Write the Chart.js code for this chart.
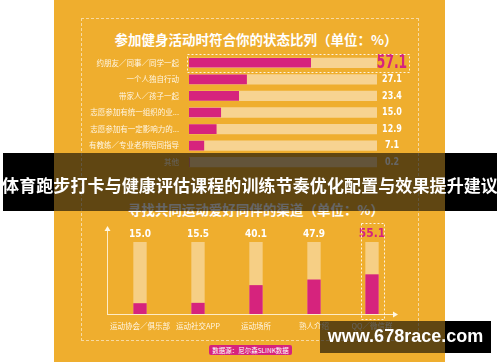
<!DOCTYPE html>
<html>
<head>
<meta charset="utf-8">
<script src="https://cdn.jsdelivr.net/npm/chart.js@4.4.0/dist/chart.umd.min.js"></script>
<style>
    body {
        margin: 0;
        width: 500px;
        height: 362px;
        background: #ffffff;
        position: relative;
        overflow: hidden;
        font-family: 'Noto Sans CJK SC', 'Noto Sans', sans-serif;
    }
    .abs { position: absolute; }
    #panel { left: 54px; top: 0; width: 391px; height: 362px; background: #EFAE2E; }
    #frame { left: 81px; top: 18px; width: 336px; height: 321px; border: 1px dashed rgba(255,255,255,0.55); }
    .title { color: #ffffff; font-weight: bold; font-size: 13.5px; white-space: nowrap; text-align: center; width: 500px; left: 6px; }
    #source { left: 209px; top: 345px; width: 83px; height: 10px; background: #D6237D; border-radius: 2px;
              color: #fff; font-size: 6.5px; line-height: 10px; text-align: center; }
    .black { background: #000; }
    .shade { background: rgba(0,0,0,0.6); }
    #bannerText { left: 0; top: 172px; width: 500px; text-align: center; color: #fff; font-weight: bold; font-size: 17px;
                  letter-spacing: 0.1px; white-space: nowrap; }
    #mark { left: 320px; top: 326px; width: 171px; text-align: center; color: #fff; font-weight: bold;
            font-family: 'Liberation Sans', Arial, sans-serif; font-size: 18px; white-space: nowrap; }
</style>
</head>
<body>
<div class="abs black" style="left:3px; top:153px; width:494px; height:58px;"></div>
<div class="abs black" style="left:320px; top:321px; width:171px; height:32px;"></div>
<div class="abs" id="panel"></div>
<div class="abs" id="frame"></div>
<div class="abs title" style="top:29px;">参加健身活动时符合你的状态比列（单位：%）</div>
<canvas class="abs" id="statusChart" width="338" height="145" style="left:81px; top:40px;"></canvas>
<div class="abs title" style="top:199px;">寻找共同运动爱好同伴的渠道（单位：%）</div>
<canvas class="abs" id="channelChart" width="338" height="126" style="left:81px; top:215px;"></canvas>
<div class="abs" id="source">数据源：尼尔森SLINK数据</div>
<div class="abs shade" style="left:54px; top:153px; width:391px; height:58px;"></div>
<div class="abs shade" style="left:320px; top:321px; width:125px; height:32px;"></div>
<div class="abs" id="bannerText">体育跑步打卡与健康评估课程的训练节奏优化配置与效果提升建议</div>
<div class="abs" id="mark">www.678race.com</div>

<script>
// Chart data
const statusLabels = ['约朋友／同事／同学一起', '一个人独自行动', '带家人／孩子一起', '志愿参加有统一组织的业...', '志愿参加有一定影响力的...', '有教练／专业老师陪同指导', '其他'];
const statusValues = [57.1, 27.1, 23.4, 15.0, 12.9, 7.1, 0.2];
const statusMax = 88;
const statusHighlight = 0;

const channelLabels = ['运动协会／俱乐部', '运动社交APP', '运动场所', '熟人介绍', 'QQ／微信群'];
const channelValues = [15.0, 15.5, 40.1, 47.9, 55.1];
const channelMax = 100;
const channelHighlight = 4;

const PINK = '#D6237D';
const TRACK = '#F7D391';
const TEXT = 'rgba(255,250,238,0.95)';
const CJK = "'Noto Sans CJK SC', sans-serif";
const NUM = "'Liberation Sans Narrow', 'DejaVu Sans Condensed', sans-serif";

// draw a squeezed bold number like the poster font
function drawNumber(ctx, text, x, y, size, color, squeeze) {
    ctx.save();
    ctx.translate(x, y);
    ctx.scale(squeeze, 1);
    ctx.font = 'bold ' + size + 'px ' + NUM;
    ctx.fillStyle = color;
    ctx.textAlign = 'center';
    ctx.textBaseline = 'middle';
    ctx.fillText(text, 0, 0);
    ctx.restore();
}

function dashedBox(ctx, x1, y1, x2, y2) {
    ctx.save();
    ctx.strokeStyle = 'rgba(255,255,255,0.85)';
    ctx.lineWidth = 1;
    ctx.setLineDash([2, 2]);
    ctx.strokeRect(Math.round(x1) + 0.5, Math.round(y1) + 0.5, Math.round(x2 - x1), Math.round(y2 - y1));
    ctx.restore();
}

document.addEventListener('DOMContentLoaded', function() {
    // Status chart (horizontal bars)
    const statusLabelsPlugin = {
        id: 'statusLabels',
        afterDatasetsDraw(chart) {
            const ctx = chart.ctx;
            const area = chart.chartArea;
            const meta = chart.getDatasetMeta(1);
            meta.data.forEach((bar, i) => {
                const txt = statusValues[i].toFixed(1);
                if (i === statusHighlight) {
                    drawNumber(ctx, txt, area.right + 15, bar.y, 19, PINK, 0.72);
                    dashedBox(ctx, area.left - 2, bar.y - 9, area.right + 32, bar.y + 9);
                } else {
                    drawNumber(ctx, txt, area.right + 15, bar.y, 10.5, '#ffffff', 0.85);
                }
            });
        }
    };

    new Chart(document.getElementById('statusChart').getContext('2d'), {
        type: 'bar',
        data: {
            labels: statusLabels,
            datasets: [
                {
                    data: statusValues.map(() => statusMax),
                    backgroundColor: TRACK,
                    grouped: false,
                    order: 2,
                    barPercentage: 0.62,
                    categoryPercentage: 1
                },
                {
                    data: statusValues,
                    backgroundColor: PINK,
                    grouped: false,
                    order: 1,
                    barPercentage: 0.58,
                    categoryPercentage: 1
                }
            ]
        },
        options: {
            indexAxis: 'y',
            responsive: false,
            animation: false,
            layout: { padding: { top: 0, bottom: 0, right: 42, left: 0 } },
            plugins: { legend: { display: false }, tooltip: { enabled: false } },
            scales: {
                x: { display: false, min: 0, max: statusMax },
                y: {
                    grid: { display: false, drawTicks: false },
                    border: { display: false },
                    ticks: { color: TEXT, font: { size: 7.5, family: CJK }, padding: 10, autoSkip: false },
                    afterFit(scale) { scale.width = 108; }
                }
            }
        },
        plugins: [statusLabelsPlugin]
    });

    // Channel chart (vertical bars)
    const channelPlugin = {
        id: 'channelDecor',
        afterDatasetsDraw(chart) {
            const ctx = chart.ctx;
            const area = chart.chartArea;
            const ax = area.left - 4;
            const ay = area.bottom;
            // axes with arrows
            ctx.save();
            ctx.strokeStyle = 'rgba(255,243,215,0.9)';
            ctx.fillStyle = 'rgba(255,248,230,1)';
            ctx.lineWidth = 1;
            ctx.beginPath();
            ctx.moveTo(ax + 0.5, ay);
            ctx.lineTo(ax + 0.5, 14);
            ctx.moveTo(ax, ay + 0.5);
            ctx.lineTo(area.right - 6, ay + 0.5);
            ctx.stroke();
            ctx.beginPath();
            ctx.moveTo(ax + 0.5, 11);
            ctx.lineTo(ax - 2.5, 16);
            ctx.lineTo(ax + 3.5, 16);
            ctx.closePath();
            ctx.fill();
            ctx.beginPath();
            ctx.moveTo(area.right - 3, ay + 0.5);
            ctx.lineTo(area.right - 8, ay - 2.5);
            ctx.lineTo(area.right - 8, ay + 3.5);
            ctx.closePath();
            ctx.fill();
            ctx.restore();

            const meta = chart.getDatasetMeta(1);
            meta.data.forEach((bar, i) => {
                const txt = channelValues[i].toFixed(1);
                if (i === channelHighlight) {
                    drawNumber(ctx, txt, bar.x, area.top - 8, 12.5, PINK, 0.95);
                    dashedBox(ctx, bar.x - 11, 8, bar.x + 12, ay + 5);
                } else {
                    drawNumber(ctx, txt, bar.x, area.top - 8, 10.5, '#ffffff', 0.95);
                }
            });
        }
    };

    new Chart(document.getElementById('channelChart').getContext('2d'), {
        type: 'bar',
        data: {
            labels: channelLabels,
            datasets: [
                {
                    data: channelValues.map(() => channelMax),
                    backgroundColor: '#F6CF85',
                    grouped: false,
                    order: 2,
                    barPercentage: 0.23,
                    categoryPercentage: 1
                },
                {
                    data: channelValues,
                    backgroundColor: PINK,
                    grouped: false,
                    order: 1,
                    barPercentage: 0.23,
                    categoryPercentage: 1
                }
            ]
        },
        options: {
            responsive: false,
            animation: false,
            layout: { padding: { top: 27, bottom: 0, left: 30, right: 18 } },
            plugins: { legend: { display: false }, tooltip: { enabled: false } },
            scales: {
                y: { display: false, min: 0, max: channelMax },
                x: {
                    grid: { display: false, drawTicks: false },
                    border: { display: false },
                    ticks: { color: TEXT, font: { size: 7.5, family: CJK }, padding: 8, maxRotation: 0, autoSkip: false },
                    afterFit(scale) { scale.height = 27; }
                }
            }
        },
        plugins: [channelPlugin]
    });
});
</script>
</body>
</html>
